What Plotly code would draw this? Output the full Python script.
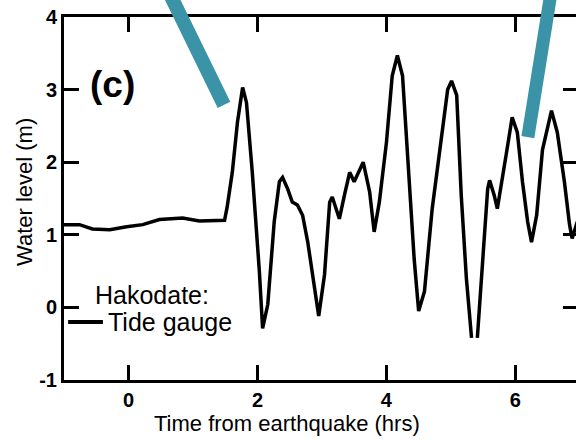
import plotly.graph_objects as go

# Tide gauge record at Hakodate (hours from earthquake, water level in m)
time_hrs = [-1.0, -0.76, -0.56, -0.29, -0.03, 0.22, 0.48, 0.84, 1.10, 1.41, 1.49, 1.53,
            1.61, 1.69, 1.77, 1.83, 1.92, 2.03, 2.08, 2.16, 2.26, 2.34, 2.39, 2.47,
            2.54, 2.62, 2.70, 2.78, 2.85, 2.95, 3.04, 3.12, 3.16, 3.27, 3.35, 3.43,
            3.50, 3.58, 3.64, 3.74, 3.81, 3.89, 4.00, 4.09, 4.17, 4.25, 4.36, 4.43,
            4.50, 4.59, 4.71, 4.87, 4.95, 5.01, 5.09, 5.16, 5.24, 5.32, None, 5.41,
            5.49, 5.57, 5.60, 5.67, 5.72, 5.80, 5.88, 5.95, 6.03, 6.11, 6.19, 6.25,
            6.33, 6.42, 6.56, 6.65, 6.76, 6.84, 6.88, 6.96]
water_level = [1.14, 1.14, 1.08, 1.07, 1.11, 1.14, 1.21, 1.23, 1.19, 1.19, 1.20, 1.38,
               1.86, 2.55, 3.03, 2.82, 1.86, 0.49, -0.29, 0.04, 1.18, 1.73, 1.79, 1.63,
               1.45, 1.41, 1.27, 0.90, 0.45, -0.12, 0.45, 1.45, 1.52, 1.22, 1.55, 1.86,
               1.73, 1.89, 2.00, 1.59, 1.04, 1.45, 2.27, 3.19, 3.47, 3.19, 1.59, 0.67,
               -0.05, 0.22, 1.36, 2.51, 3.00, 3.12, 2.92, 1.55, 0.40, -0.42, None, -0.42,
               0.63, 1.63, 1.75, 1.55, 1.36, 1.77, 2.23, 2.62, 2.41, 1.73, 1.18, 0.90,
               1.27, 2.17, 2.71, 2.41, 1.73, 1.14, 0.95, 1.18]

x_tickvals = [0, 2, 4, 6]
x_ticktext = ["0", "2", "4", "6"]
y_tickvals = [-1, 0, 1, 2, 3, 4]
y_ticktext = ["-1", "0", "1", "2", "3", "4"]

FONT = "Liberation Sans, Arial, Helvetica, sans-serif"
TEAL = "#3a93a6"

fig = go.Figure()
fig.add_trace(go.Scatter(x=time_hrs, y=water_level, mode="lines", name="Tide gauge",
                         line=dict(color="black", width=3.5), connectgaps=False,
                         showlegend=False))

fig.update_layout(
    width=576, height=440,
    margin=dict(l=64, r=0, t=17, b=60),
    plot_bgcolor="white", paper_bgcolor="white",
    font=dict(family=FONT, color="black"),
    xaxis=dict(range=[-1.0, 6.94], tickvals=x_tickvals, ticktext=x_ticktext,
               ticks="inside", ticklen=15, tickwidth=3, tickcolor="black",
               showline=True, linewidth=3, linecolor="black", mirror="ticks",
               showgrid=False, zeroline=False,
               tickfont=dict(size=20, weight="bold", family=FONT)),
    yaxis=dict(range=[-1, 4], tickvals=y_tickvals, ticktext=y_ticktext,
               ticks="inside", ticklen=15, tickwidth=3, tickcolor="black",
               showline=True, linewidth=3, linecolor="black", mirror=False,
               showgrid=False, zeroline=False,
               tickfont=dict(size=20, weight="bold", family=FONT)),
    yaxis2=dict(range=[-1, 4], overlaying="y", side="right", tickvals=y_tickvals,
                showticklabels=False, ticks="inside", ticklen=13, tickwidth=3,
                tickcolor="black", showline=False, showgrid=False, zeroline=False),
)

# right-side ticks need a (hidden) companion trace on yaxis2
fig.add_trace(go.Scatter(x=[None], y=[None], yaxis="y2", showlegend=False,
                         hoverinfo="skip"))

# axis titles
fig.add_annotation(text="Time from earthquake (hrs)", xref="paper", yref="paper",
                   x=0.4355, y=-0.121, xanchor="center", yanchor="middle",
                   showarrow=False, font=dict(size=22, family=FONT))
fig.add_annotation(text="Water level (m)", xref="paper", yref="paper",
                   x=-0.076, y=0.518, xanchor="center", yanchor="middle",
                   textangle=-90, showarrow=False, font=dict(size=22, family=FONT))

# panel label
fig.add_annotation(text="<b>(c)</b>", xref="paper", yref="paper",
                   x=0.094, y=0.813, xanchor="center", yanchor="middle",
                   showarrow=False, font=dict(size=37, family=FONT))

# legend (drawn manually)
fig.add_annotation(text="Hakodate:", xref="paper", yref="paper",
                   x=0.057, y=0.2355, xanchor="left", yanchor="middle",
                   showarrow=False, font=dict(size=25, family=FONT))
fig.add_annotation(text="Tide gauge", xref="paper", yref="paper",
                   x=0.082, y=0.160, xanchor="left", yanchor="middle",
                   showarrow=False, font=dict(size=25, family=FONT))
fig.add_shape(type="line", xref="paper", yref="paper",
              x0=0.008, x1=0.076, y0=0.160, y1=0.160,
              line=dict(color="black", width=4))

# teal pointer bars
fig.add_shape(type="line", xref="paper", yref="paper",
              x0=0.203, y0=1.074, x1=0.3125, y1=0.758,
              line=dict(color=TEAL, width=14))
fig.add_shape(type="line", xref="paper", yref="paper",
              x0=0.952, y0=1.074, x1=0.906, y1=0.669,
              line=dict(color=TEAL, width=13))

fig.write_html("out.html", config={"displayModeBar": False},
               post_script="document.body.style.margin='0';document.body.style.overflow='hidden';")
